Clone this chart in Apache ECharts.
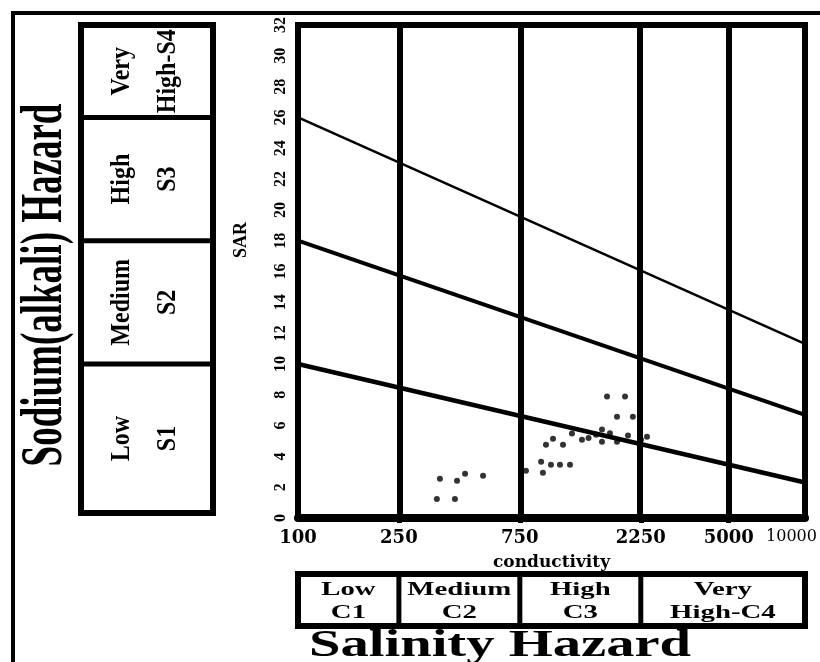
<!DOCTYPE html>
<html>
<head>
<meta charset="utf-8">
<script src="https://cdn.jsdelivr.net/npm/echarts@6/dist/echarts.min.js"></script>
<style>
html, body { margin: 0; padding: 0; background: #fff; }
#main { width: 820px; height: 662px; }
</style>
</head>
<body>
<div id="main"></div>
<script>
// conductivity ticks (log axis) and class boundaries
var condTicks = [100, 250, 750, 2250, 5000, 10000];
var condBounds = [250, 750, 2250, 5000];
var sarMax = 32;

// sodium hazard class lines: [conductivity, SAR] at both ends
var lineS4 = [[100, 26], [10000, 11.3]];
var lineS3 = [[100, 18], [10000, 6.7]];
var lineS2 = [[100, 10], [10000, 2.3]];

// samples
var sampleCond = [363, 424, 456, 537, 353, 416, 793, 910, 925, 995, 1080, 1183, 1014, 951, 1110,
    1204, 1319, 1499, 1582, 1582, 1813, 2003, 2255, 2381, 1656, 1950, 1813, 2094, 1400, 1700];
var sampleSar = [2.54, 2.41, 2.87, 2.74, 1.24, 1.24, 3.06, 3.65, 2.93, 3.46, 3.46, 3.46, 5.15, 4.76, 4.76,
    5.48, 5.08, 5.41, 5.74, 4.95, 4.95, 5.35, 5.08, 5.28, 7.89, 7.89, 6.58, 6.58, 5.2, 5.5];

// class labels
var sodiumClasses = ['Very\nHigh-S4', 'High\nS3', 'Medium\nS2', 'Low\nS1'];
var sodiumLimits = [32, 26, 18, 10, 0];
var salinityClasses = ['Low\nC1', 'Medium\nC2', 'High\nC3', 'Very\nHigh-C4'];
var salinityLimits = [100, 250, 750, 2250, 10000];

var lg = function (v) { return Math.log10(v); };
var toXY = function (arr) { return arr.map(function (p) { return [lg(p[0]), p[1]]; }); };

var chart = echarts.init(document.getElementById('main'));

var option = {
    backgroundColor: '#fff',
    animation: false,
    grid: {
        left: 298, right: 15, top: 25, bottom: 144,
        show: true, borderColor: '#000', borderWidth: 6
    },
    xAxis: {
        type: 'value',
        min: 2, max: 4,
        name: 'conductivity',
        nameLocation: 'middle',
        nameGap: 36,
        nameTextStyle: { fontFamily: 'DejaVu Serif', fontWeight: 'bold', fontSize: 17, color: '#000' },
        axisLine: { show: true, lineStyle: { color: '#000', width: 8 } },
        axisTick: {
            show: true, length: 5,
            customValues: condBounds.map(lg),
            lineStyle: { color: '#000', width: 5 }
        },
        splitLine: { show: false },
        axisLabel: {
            customValues: condTicks.map(lg),
            margin: 11,
            fontFamily: 'DejaVu Serif', fontWeight: 'bold', fontSize: 18, color: '#000',
            formatter: function (v) {
                var c = Math.round(Math.pow(10, v));
                if (c === 10000) return '{s|' + c + '}';
                return String(c);
            },
            rich: {
                s: { fontFamily: 'DejaVu Serif', fontWeight: 'normal', fontSize: 16, color: '#000', padding: [0, 27, 0, 0] }
            }
        }
    },
    yAxis: {
        type: 'value',
        min: 0, max: sarMax, interval: 2,
        axisLine: { show: false },
        axisTick: { show: false },
        splitLine: { show: false },
        axisLabel: {
            rotate: 90, margin: 9,
            fontFamily: 'Liberation Serif', fontWeight: 'bold', fontSize: 16, color: '#000'
        }
    },
    series: [
        {
            type: 'line', data: toXY(lineS4), symbol: 'none',
            lineStyle: { color: '#000', width: 2.5 },
            markLine: {
                silent: true, symbol: ['none', 'none'],
                label: { show: false },
                lineStyle: { color: '#000', width: 6, type: 'solid' },
                data: condBounds.map(function (c) { return { xAxis: lg(c) }; })
            }
        },
        { type: 'line', data: toXY(lineS3), symbol: 'none', lineStyle: { color: '#000', width: 4 } },
        { type: 'line', data: toXY(lineS2), symbol: 'none', lineStyle: { color: '#000', width: 4.5 } },
        {
            type: 'scatter', symbolSize: 6,
            itemStyle: { color: '#000' },
            data: sampleCond.map(function (c, i) { return [lg(c), sampleSar[i]]; })
        }
    ]
};
chart.setOption(option);

// boxes and titles round the plot
var px = function (cond, sar) { return chart.convertToPixel({ gridIndex: 0 }, [lg(cond), sar]); };
var g = [];

// outer frame
g.push({ type: 'polyline', shape: { points: [[13, 700], [13, 13], [830, 13]] }, style: { stroke: '#000', lineWidth: 4, fill: null } });

// sodium hazard box
var bx0 = 81, bx1 = 213;
var yTop = px(100, sodiumLimits[0])[1], yBot = px(100, sodiumLimits[4])[1] - 5;
g.push({ type: 'rect', shape: { x: bx0, y: yTop, width: bx1 - bx0, height: yBot - yTop }, style: { stroke: '#000', lineWidth: 6, fill: null } });
for (var i = 0; i < sodiumClasses.length; i++) {
    var a = i === 0 ? yTop : px(100, sodiumLimits[i])[1];
    var b = i === sodiumClasses.length - 1 ? yBot : px(100, sodiumLimits[i + 1])[1];
    if (i > 0) {
        g.push({ type: 'line', shape: { x1: bx0, y1: a, x2: bx1, y2: a }, style: { stroke: '#000', lineWidth: 5 } });
    }
    g.push({
        type: 'text', x: (bx0 + bx1) / 2 - 2, y: (a + b) / 2, rotation: Math.PI / 2, scaleY: 1.15,
        style: {
            text: sodiumClasses[i], fontFamily: 'Liberation Serif', fontWeight: 'bold', fontSize: 24,
            lineHeight: 40, fill: '#000', align: 'center', verticalAlign: 'middle'
        }
    });
}

// salinity hazard box
var sTop = 574, sBot = 626;
var sx0 = px(salinityLimits[0], 0)[0], sx1 = px(salinityLimits[4], 0)[0];
g.push({ type: 'rect', shape: { x: sx0, y: sTop, width: sx1 - sx0, height: sBot - sTop }, style: { stroke: '#000', lineWidth: 6, fill: null } });
for (var j = 0; j < salinityClasses.length; j++) {
    var l = px(salinityLimits[j], 0)[0];
    var r = px(salinityLimits[j + 1], 0)[0];
    if (j > 0) {
        g.push({ type: 'line', shape: { x1: l, y1: sTop, x2: l, y2: sBot }, style: { stroke: '#000', lineWidth: 5 } });
    }
    g.push({
        type: 'text', x: (l + r) / 2, y: (sTop + sBot) / 2 + 2, scaleX: 1.6,
        style: {
            text: salinityClasses[j], fontFamily: 'Liberation Serif', fontWeight: 'bold', fontSize: 18,
            lineHeight: 23, fill: '#000', align: 'center', verticalAlign: 'middle'
        }
    });
}

// titles
g.push({
    type: 'text', x: 46, y: 285, rotation: Math.PI / 2, scaleY: 1.6,
    style: { text: 'Sodium(alkali) Hazard', fontFamily: 'Liberation Serif', fontWeight: 'bold', fontSize: 37, fill: '#000', align: 'center', verticalAlign: 'middle' }
});
g.push({
    type: 'text', x: 500, y: 646, scaleX: 1.49,
    style: { text: 'Salinity Hazard', fontFamily: 'Liberation Serif', fontWeight: 'bold', fontSize: 38, fill: '#000', align: 'center', verticalAlign: 'middle' }
});
g.push({
    type: 'text', x: 241, y: 240, rotation: Math.PI / 2,
    style: { text: 'SAR', fontFamily: 'Liberation Serif', fontWeight: 'bold', fontSize: 18, fill: '#000', align: 'center', verticalAlign: 'middle' }
});

chart.setOption({ graphic: g });
</script>
</body>
</html>
